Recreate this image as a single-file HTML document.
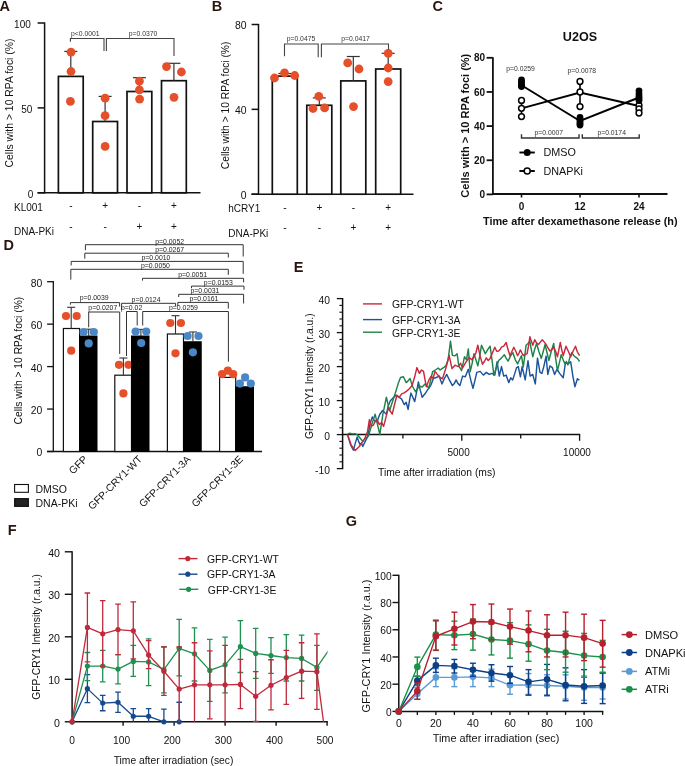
<!DOCTYPE html>
<html><head><meta charset="utf-8"><style>
html,body{margin:0;padding:0;background:#fff;}
svg{display:block;font-family:"Liberation Sans", sans-serif;will-change:transform;}
</style></head><body>
<svg width="685" height="766" viewBox="0 0 685 766">
<rect width="685" height="766" fill="#fff"/>
<text x="-0.40" y="11.00" font-size="14.5" text-anchor="start" font-weight="bold" fill="#2a1410">A</text>
<line x1="44.60" y1="22.40" x2="44.60" y2="193.40" stroke="#111" stroke-width="1.5"/>
<line x1="37.60" y1="23.00" x2="44.60" y2="23.00" stroke="#111" stroke-width="1.5"/>
<text x="30.80" y="27.90" font-size="10" text-anchor="end" fill="#111">100</text>
<line x1="37.60" y1="107.90" x2="44.60" y2="107.90" stroke="#111" stroke-width="1.5"/>
<text x="32.30" y="112.80" font-size="10" text-anchor="end" fill="#111">50</text>
<line x1="37.60" y1="192.80" x2="44.60" y2="192.80" stroke="#111" stroke-width="1.5"/>
<text x="33.30" y="197.70" font-size="10" text-anchor="end" fill="#111">0</text>
<line x1="37.60" y1="192.80" x2="200.50" y2="192.80" stroke="#111" stroke-width="1.5"/>
<text x="12.54" y="103.00" font-size="10.4" text-anchor="middle" fill="#111" transform="rotate(-90 12.54 103.00)">Cells with &gt; 10 RPA foci (%)</text>
<rect x="58.40" y="76.40" width="24.80" height="116.40" fill="#fff" stroke="#111" stroke-width="1.7"/>
<line x1="70.80" y1="76.40" x2="70.80" y2="51.40" stroke="#333" stroke-width="1.2"/>
<line x1="64.30" y1="51.40" x2="77.30" y2="51.40" stroke="#333" stroke-width="1.2"/>
<circle cx="71.00" cy="52.20" r="4.4" fill="#e5502a"/>
<circle cx="71.00" cy="71.50" r="4.4" fill="#e5502a"/>
<circle cx="70.40" cy="101.30" r="4.4" fill="#e5502a"/>
<rect x="92.70" y="121.50" width="24.80" height="71.30" fill="#fff" stroke="#111" stroke-width="1.7"/>
<line x1="105.10" y1="121.50" x2="105.10" y2="96.40" stroke="#333" stroke-width="1.2"/>
<line x1="98.60" y1="96.40" x2="111.60" y2="96.40" stroke="#333" stroke-width="1.2"/>
<circle cx="105.10" cy="98.20" r="4.4" fill="#e5502a"/>
<circle cx="105.10" cy="115.70" r="4.4" fill="#e5502a"/>
<circle cx="105.10" cy="146.40" r="4.4" fill="#e5502a"/>
<rect x="127.00" y="91.50" width="24.80" height="101.30" fill="#fff" stroke="#111" stroke-width="1.7"/>
<line x1="139.40" y1="91.50" x2="139.40" y2="77.70" stroke="#333" stroke-width="1.2"/>
<line x1="132.90" y1="77.70" x2="145.90" y2="77.70" stroke="#333" stroke-width="1.2"/>
<circle cx="139.40" cy="81.20" r="4.4" fill="#e5502a"/>
<circle cx="139.40" cy="89.90" r="4.4" fill="#e5502a"/>
<circle cx="139.60" cy="99.10" r="4.4" fill="#e5502a"/>
<rect x="161.50" y="80.70" width="24.80" height="112.10" fill="#fff" stroke="#111" stroke-width="1.7"/>
<line x1="173.90" y1="80.70" x2="173.90" y2="63.30" stroke="#333" stroke-width="1.2"/>
<line x1="167.40" y1="63.30" x2="180.40" y2="63.30" stroke="#333" stroke-width="1.2"/>
<circle cx="166.50" cy="66.60" r="4.4" fill="#e5502a"/>
<circle cx="181.40" cy="72.00" r="4.4" fill="#e5502a"/>
<circle cx="174.00" cy="97.30" r="4.4" fill="#e5502a"/>
<path d="M70.4,41.8 V38.5 H104 V51" stroke="#444" stroke-width="1.1" fill="none"/>
<path d="M106.4,51 V38.5 H174 V55.9" stroke="#444" stroke-width="1.1" fill="none"/>
<text x="71.00" y="36.20" font-size="6.8" text-anchor="start" fill="#333">p&lt;0.0001</text>
<text x="128.80" y="36.20" font-size="6.8" text-anchor="start" fill="#333">p=0.0370</text>
<text x="14.00" y="210.50" font-size="10" text-anchor="start" fill="#111">KL001</text>
<text x="14.00" y="234.70" font-size="10" text-anchor="start" fill="#111">DNA-PKi</text>
<text x="70.80" y="208.80" font-size="10" text-anchor="middle" fill="#111">-</text>
<text x="105.10" y="208.80" font-size="10" text-anchor="middle" fill="#111">+</text>
<text x="139.40" y="208.80" font-size="10" text-anchor="middle" fill="#111">-</text>
<text x="173.90" y="208.80" font-size="10" text-anchor="middle" fill="#111">+</text>
<text x="70.80" y="230.20" font-size="10" text-anchor="middle" fill="#111">-</text>
<text x="105.10" y="230.20" font-size="10" text-anchor="middle" fill="#111">-</text>
<text x="139.40" y="230.20" font-size="10" text-anchor="middle" fill="#111">+</text>
<text x="173.90" y="230.20" font-size="10" text-anchor="middle" fill="#111">+</text>
<text x="211.80" y="11.00" font-size="14.5" text-anchor="start" font-weight="bold" fill="#2a1410">B</text>
<line x1="258.50" y1="23.90" x2="258.50" y2="194.80" stroke="#111" stroke-width="1.5"/>
<line x1="251.60" y1="24.50" x2="258.50" y2="24.50" stroke="#111" stroke-width="1.5"/>
<text x="246.50" y="29.30" font-size="10.4" text-anchor="end" fill="#111">80</text>
<line x1="251.60" y1="109.35" x2="258.50" y2="109.35" stroke="#111" stroke-width="1.5"/>
<text x="246.50" y="114.15" font-size="10.4" text-anchor="end" fill="#111">40</text>
<line x1="251.60" y1="194.20" x2="258.50" y2="194.20" stroke="#111" stroke-width="1.5"/>
<text x="246.50" y="199.00" font-size="10.4" text-anchor="end" fill="#111">0</text>
<line x1="251.40" y1="194.20" x2="413.50" y2="194.20" stroke="#111" stroke-width="1.5"/>
<text x="228.91" y="105.40" font-size="10.3" text-anchor="middle" fill="#111" transform="rotate(-90 228.91 105.40)">Cells with &gt; 10 RPA foci (%)</text>
<rect x="272.30" y="76.10" width="25.00" height="118.10" fill="#fff" stroke="#111" stroke-width="1.7"/>
<line x1="284.80" y1="76.10" x2="284.80" y2="73.50" stroke="#333" stroke-width="1.2"/>
<line x1="278.30" y1="73.50" x2="291.30" y2="73.50" stroke="#333" stroke-width="1.2"/>
<circle cx="274.50" cy="78.00" r="4.4" fill="#e5502a"/>
<circle cx="284.50" cy="72.90" r="4.4" fill="#e5502a"/>
<circle cx="294.70" cy="75.50" r="4.4" fill="#e5502a"/>
<rect x="306.80" y="105.30" width="25.00" height="88.90" fill="#fff" stroke="#111" stroke-width="1.7"/>
<line x1="319.30" y1="105.30" x2="319.30" y2="97.90" stroke="#333" stroke-width="1.2"/>
<line x1="312.80" y1="97.90" x2="325.80" y2="97.90" stroke="#333" stroke-width="1.2"/>
<circle cx="318.80" cy="96.30" r="4.4" fill="#e5502a"/>
<circle cx="313.00" cy="108.50" r="4.4" fill="#e5502a"/>
<circle cx="324.60" cy="107.90" r="4.4" fill="#e5502a"/>
<rect x="340.80" y="80.90" width="25.00" height="113.30" fill="#fff" stroke="#111" stroke-width="1.7"/>
<line x1="353.30" y1="80.90" x2="353.30" y2="56.50" stroke="#333" stroke-width="1.2"/>
<line x1="346.80" y1="56.50" x2="359.80" y2="56.50" stroke="#333" stroke-width="1.2"/>
<circle cx="347.70" cy="62.90" r="4.4" fill="#e5502a"/>
<circle cx="359.00" cy="69.00" r="4.4" fill="#e5502a"/>
<circle cx="353.50" cy="106.60" r="4.4" fill="#e5502a"/>
<rect x="375.70" y="69.00" width="25.00" height="125.20" fill="#fff" stroke="#111" stroke-width="1.7"/>
<line x1="388.20" y1="69.00" x2="388.20" y2="53.30" stroke="#333" stroke-width="1.2"/>
<line x1="381.70" y1="53.30" x2="394.70" y2="53.30" stroke="#333" stroke-width="1.2"/>
<circle cx="388.20" cy="53.30" r="4.4" fill="#e5502a"/>
<circle cx="388.20" cy="68.00" r="4.4" fill="#e5502a"/>
<circle cx="388.20" cy="81.60" r="4.4" fill="#e5502a"/>
<path d="M284.5,56.2 V44 H318.2 V57.2" stroke="#444" stroke-width="1.1" fill="none"/>
<path d="M321.4,57.2 V44 H388.5 V49.8" stroke="#444" stroke-width="1.1" fill="none"/>
<text x="286.70" y="41.20" font-size="6.8" text-anchor="start" fill="#333">p=0.0475</text>
<text x="341.30" y="41.20" font-size="6.8" text-anchor="start" fill="#333">p=0.0417</text>
<text x="228.30" y="212.20" font-size="10" text-anchor="start" fill="#111">hCRY1</text>
<text x="228.30" y="236.50" font-size="10" text-anchor="start" fill="#111">DNA-PKi</text>
<text x="284.80" y="210.50" font-size="10" text-anchor="middle" fill="#111">-</text>
<text x="319.30" y="210.50" font-size="10" text-anchor="middle" fill="#111">+</text>
<text x="353.30" y="210.50" font-size="10" text-anchor="middle" fill="#111">-</text>
<text x="388.20" y="210.50" font-size="10" text-anchor="middle" fill="#111">+</text>
<text x="284.80" y="231.00" font-size="10" text-anchor="middle" fill="#111">-</text>
<text x="319.30" y="231.00" font-size="10" text-anchor="middle" fill="#111">-</text>
<text x="353.30" y="231.00" font-size="10" text-anchor="middle" fill="#111">+</text>
<text x="388.20" y="231.00" font-size="10" text-anchor="middle" fill="#111">+</text>
<text x="432.40" y="11.00" font-size="14.5" text-anchor="start" font-weight="bold" fill="#2a1410">C</text>
<text x="580.00" y="40.70" font-size="12.6" text-anchor="middle" font-weight="bold" fill="#111">U2OS</text>
<line x1="492.90" y1="57.20" x2="492.90" y2="194.40" stroke="#111" stroke-width="1.8"/>
<line x1="486.60" y1="57.80" x2="492.90" y2="57.80" stroke="#111" stroke-width="1.8"/>
<text x="485.00" y="61.40" font-size="10" text-anchor="end" font-weight="bold" fill="#111">80</text>
<line x1="486.60" y1="91.95" x2="492.90" y2="91.95" stroke="#111" stroke-width="1.8"/>
<text x="485.00" y="95.55" font-size="10" text-anchor="end" font-weight="bold" fill="#111">60</text>
<line x1="486.60" y1="126.10" x2="492.90" y2="126.10" stroke="#111" stroke-width="1.8"/>
<text x="485.00" y="129.70" font-size="10" text-anchor="end" font-weight="bold" fill="#111">40</text>
<line x1="486.60" y1="160.25" x2="492.90" y2="160.25" stroke="#111" stroke-width="1.8"/>
<text x="485.00" y="163.85" font-size="10" text-anchor="end" font-weight="bold" fill="#111">20</text>
<line x1="486.60" y1="194.40" x2="492.90" y2="194.40" stroke="#111" stroke-width="1.8"/>
<text x="485.00" y="198.00" font-size="10" text-anchor="end" font-weight="bold" fill="#111">0</text>
<line x1="492.00" y1="194.00" x2="667.50" y2="194.00" stroke="#111" stroke-width="1.8"/>
<line x1="521.50" y1="194.00" x2="521.50" y2="197.50" stroke="#111" stroke-width="1.6"/>
<text x="521.50" y="210.40" font-size="10" text-anchor="middle" font-weight="bold" fill="#111">0</text>
<line x1="580.00" y1="194.00" x2="580.00" y2="197.50" stroke="#111" stroke-width="1.6"/>
<text x="580.00" y="210.40" font-size="10" text-anchor="middle" font-weight="bold" fill="#111">12</text>
<line x1="639.00" y1="194.00" x2="639.00" y2="197.50" stroke="#111" stroke-width="1.6"/>
<text x="639.00" y="210.40" font-size="10" text-anchor="middle" font-weight="bold" fill="#111">24</text>
<text x="580.30" y="224.80" font-size="10.9" text-anchor="middle" font-weight="bold" fill="#111">Time after dexamethasone release (h)</text>
<text x="469.36" y="125.70" font-size="11.0" text-anchor="middle" font-weight="bold" fill="#111" transform="rotate(-90 469.36 125.70)">Cells with &gt; 10 RPA foci (%)</text>
<path d="M521.5,108.3 L580.0,92.5 L639.0,106.0" stroke="#000" stroke-width="1.9" fill="none"/>
<path d="M521.5,85.2 L580.0,121.0 L639.0,97.5" stroke="#000" stroke-width="1.9" fill="none"/>
<line x1="521.50" y1="100.40" x2="521.50" y2="116.60" stroke="#000" stroke-width="1.6"/>
<line x1="521.50" y1="80.00" x2="521.50" y2="86.60" stroke="#000" stroke-width="1.6"/>
<circle cx="521.50" cy="100.40" r="2.9" fill="#fff" stroke="#000" stroke-width="1.5"/>
<circle cx="521.50" cy="108.30" r="2.9" fill="#fff" stroke="#000" stroke-width="1.5"/>
<circle cx="521.50" cy="116.60" r="2.9" fill="#fff" stroke="#000" stroke-width="1.5"/>
<circle cx="521.50" cy="80.00" r="3.4" fill="#000"/>
<circle cx="521.50" cy="82.00" r="3.4" fill="#000"/>
<circle cx="521.50" cy="84.00" r="3.4" fill="#000"/>
<circle cx="521.50" cy="85.50" r="3.4" fill="#000"/>
<circle cx="521.50" cy="86.60" r="3.4" fill="#000"/>
<line x1="580.00" y1="81.50" x2="580.00" y2="106.60" stroke="#000" stroke-width="1.6"/>
<line x1="580.00" y1="117.50" x2="580.00" y2="125.00" stroke="#000" stroke-width="1.6"/>
<circle cx="580.00" cy="81.50" r="2.9" fill="#fff" stroke="#000" stroke-width="1.5"/>
<circle cx="580.00" cy="92.00" r="2.9" fill="#fff" stroke="#000" stroke-width="1.5"/>
<circle cx="580.00" cy="106.60" r="2.9" fill="#fff" stroke="#000" stroke-width="1.5"/>
<circle cx="580.00" cy="117.50" r="3.4" fill="#000"/>
<circle cx="580.00" cy="119.50" r="3.4" fill="#000"/>
<circle cx="580.00" cy="121.50" r="3.4" fill="#000"/>
<circle cx="580.00" cy="123.50" r="3.4" fill="#000"/>
<circle cx="580.00" cy="125.00" r="3.4" fill="#000"/>
<line x1="639.00" y1="105.30" x2="639.00" y2="113.00" stroke="#000" stroke-width="1.6"/>
<line x1="639.00" y1="90.80" x2="639.00" y2="100.50" stroke="#000" stroke-width="1.6"/>
<circle cx="639.00" cy="105.30" r="2.9" fill="#fff" stroke="#000" stroke-width="1.5"/>
<circle cx="639.00" cy="109.00" r="2.9" fill="#fff" stroke="#000" stroke-width="1.5"/>
<circle cx="639.00" cy="113.00" r="2.9" fill="#fff" stroke="#000" stroke-width="1.5"/>
<circle cx="639.00" cy="90.80" r="3.4" fill="#000"/>
<circle cx="639.00" cy="94.00" r="3.4" fill="#000"/>
<circle cx="639.00" cy="96.50" r="3.4" fill="#000"/>
<circle cx="639.00" cy="98.50" r="3.4" fill="#000"/>
<circle cx="639.00" cy="100.50" r="3.4" fill="#000"/>
<text x="506.30" y="70.50" font-size="6.8" text-anchor="start" fill="#333">p=0.0259</text>
<text x="567.60" y="72.60" font-size="6.8" text-anchor="start" fill="#333">p=0.0078</text>
<path d="M521.5,134.3 V138.0 H579 V134.3" stroke="#333" stroke-width="1.4" fill="none"/>
<path d="M582.3,134.3 V138.0 H639.2 V134.3" stroke="#333" stroke-width="1.4" fill="none"/>
<text x="534.60" y="134.80" font-size="6.8" text-anchor="start" fill="#333">p=0.0007</text>
<text x="597.40" y="134.80" font-size="6.8" text-anchor="start" fill="#333">p=0.0174</text>
<line x1="519.40" y1="152.50" x2="534.80" y2="152.50" stroke="#000" stroke-width="1.9"/>
<circle cx="527.20" cy="152.50" r="3.5" fill="#000"/>
<text x="543.40" y="156.40" font-size="10.8" text-anchor="start" fill="#111">DMSO</text>
<line x1="519.40" y1="171.00" x2="534.80" y2="171.00" stroke="#000" stroke-width="1.9"/>
<circle cx="527.20" cy="171.00" r="3.0" fill="#fff" stroke="#000" stroke-width="1.5"/>
<text x="543.40" y="174.90" font-size="10.8" text-anchor="start" fill="#111">DNAPKi</text>
<text x="3.40" y="249.80" font-size="14.5" text-anchor="start" font-weight="bold" fill="#2a1410">D</text>
<line x1="53.30" y1="281.10" x2="53.30" y2="452.00" stroke="#111" stroke-width="1.3"/>
<line x1="47.10" y1="281.70" x2="53.30" y2="281.70" stroke="#111" stroke-width="1.3"/>
<text x="42.40" y="286.60" font-size="10.4" text-anchor="end" fill="#111">80</text>
<line x1="47.10" y1="324.15" x2="53.30" y2="324.15" stroke="#111" stroke-width="1.3"/>
<text x="42.40" y="329.05" font-size="10.4" text-anchor="end" fill="#111">60</text>
<line x1="47.10" y1="366.60" x2="53.30" y2="366.60" stroke="#111" stroke-width="1.3"/>
<text x="42.40" y="371.50" font-size="10.4" text-anchor="end" fill="#111">40</text>
<line x1="47.10" y1="409.05" x2="53.30" y2="409.05" stroke="#111" stroke-width="1.3"/>
<text x="42.40" y="413.95" font-size="10.4" text-anchor="end" fill="#111">20</text>
<line x1="47.10" y1="451.50" x2="53.30" y2="451.50" stroke="#111" stroke-width="1.3"/>
<text x="42.40" y="456.40" font-size="10.4" text-anchor="end" fill="#111">0</text>
<line x1="47.10" y1="451.50" x2="262.00" y2="451.50" stroke="#111" stroke-width="1.3"/>
<text x="21.71" y="360.60" font-size="10.3" text-anchor="middle" fill="#111" transform="rotate(-90 21.71 360.60)">Cells with &gt; 10 RPA foci (%)</text>
<rect x="63.40" y="328.50" width="16.20" height="123.00" fill="#fff" stroke="#111" stroke-width="1.2"/>
<line x1="71.20" y1="328.50" x2="71.20" y2="307.30" stroke="#333" stroke-width="1.1"/>
<line x1="67.20" y1="307.30" x2="75.20" y2="307.30" stroke="#333" stroke-width="1.1"/>
<circle cx="66.00" cy="316.00" r="4.1" fill="#e5502a"/>
<circle cx="76.70" cy="316.00" r="4.1" fill="#e5502a"/>
<circle cx="71.20" cy="350.70" r="4.1" fill="#e5502a"/>
<rect x="79.60" y="336.00" width="17.40" height="115.50" fill="#000" stroke="#000" stroke-width="1.0"/>
<line x1="88.70" y1="336.00" x2="88.70" y2="329.20" stroke="#333" stroke-width="1.1"/>
<line x1="84.70" y1="329.20" x2="92.70" y2="329.20" stroke="#333" stroke-width="1.1"/>
<circle cx="83.60" cy="332.00" r="4.1" fill="#4a87c6"/>
<circle cx="93.80" cy="332.00" r="4.1" fill="#4a87c6"/>
<circle cx="88.70" cy="343.40" r="4.1" fill="#4a87c6"/>
<rect x="114.80" y="375.20" width="16.70" height="76.30" fill="#fff" stroke="#111" stroke-width="1.2"/>
<line x1="123.40" y1="375.20" x2="123.40" y2="358.00" stroke="#333" stroke-width="1.1"/>
<line x1="119.40" y1="358.00" x2="127.40" y2="358.00" stroke="#333" stroke-width="1.1"/>
<circle cx="119.00" cy="364.80" r="4.1" fill="#e5502a"/>
<circle cx="128.50" cy="364.80" r="4.1" fill="#e5502a"/>
<circle cx="123.40" cy="393.40" r="4.1" fill="#e5502a"/>
<rect x="131.50" y="336.00" width="17.50" height="115.50" fill="#000" stroke="#000" stroke-width="1.0"/>
<line x1="140.90" y1="336.00" x2="140.90" y2="329.40" stroke="#333" stroke-width="1.1"/>
<line x1="136.90" y1="329.40" x2="144.90" y2="329.40" stroke="#333" stroke-width="1.1"/>
<circle cx="135.60" cy="331.60" r="4.1" fill="#4a87c6"/>
<circle cx="146.20" cy="331.60" r="4.1" fill="#4a87c6"/>
<circle cx="141.20" cy="343.00" r="4.1" fill="#4a87c6"/>
<rect x="167.40" y="334.00" width="16.10" height="117.50" fill="#fff" stroke="#111" stroke-width="1.2"/>
<line x1="175.50" y1="334.00" x2="175.50" y2="315.70" stroke="#333" stroke-width="1.1"/>
<line x1="171.50" y1="315.70" x2="179.50" y2="315.70" stroke="#333" stroke-width="1.1"/>
<circle cx="170.30" cy="323.00" r="4.1" fill="#e5502a"/>
<circle cx="180.90" cy="323.00" r="4.1" fill="#e5502a"/>
<circle cx="175.50" cy="353.30" r="4.1" fill="#e5502a"/>
<rect x="183.50" y="341.80" width="17.70" height="109.70" fill="#000" stroke="#000" stroke-width="1.0"/>
<line x1="192.90" y1="341.80" x2="192.90" y2="332.00" stroke="#333" stroke-width="1.1"/>
<line x1="188.90" y1="332.00" x2="196.90" y2="332.00" stroke="#333" stroke-width="1.1"/>
<circle cx="187.60" cy="336.00" r="4.1" fill="#4a87c6"/>
<circle cx="198.50" cy="336.00" r="4.1" fill="#4a87c6"/>
<circle cx="192.90" cy="352.30" r="4.1" fill="#4a87c6"/>
<rect x="219.60" y="377.40" width="16.10" height="74.10" fill="#fff" stroke="#111" stroke-width="1.2"/>
<circle cx="222.10" cy="374.20" r="4.1" fill="#e5502a"/>
<circle cx="227.80" cy="370.70" r="4.1" fill="#e5502a"/>
<circle cx="233.20" cy="374.20" r="4.1" fill="#e5502a"/>
<rect x="235.70" y="386.80" width="17.80" height="64.70" fill="#000" stroke="#000" stroke-width="1.0"/>
<circle cx="239.90" cy="383.60" r="4.1" fill="#4a87c6"/>
<circle cx="245.10" cy="377.40" r="4.1" fill="#4a87c6"/>
<circle cx="250.80" cy="383.60" r="4.1" fill="#4a87c6"/>
<path d="M85.4,250.2 V244.7 H243.2 V256.5" stroke="#333" stroke-width="1.0" fill="none"/>
<path d="M84.8,258.7 V253.2 H228.3 V257.5" stroke="#333" stroke-width="1.0" fill="none"/>
<path d="M71.2,265.4 V261.4 H243.2 V273.8" stroke="#333" stroke-width="1.0" fill="none"/>
<path d="M70.8,279.6 V269.3 H228.3 V274.9" stroke="#333" stroke-width="1.0" fill="none"/>
<path d="M142.5,280.6 V278.3 H243.6 V282.4" stroke="#333" stroke-width="1.0" fill="none"/>
<path d="M191.5,288.2 V286.1 H244 V289.8" stroke="#333" stroke-width="1.0" fill="none"/>
<path d="M178.7,297 V294.3 H243.6 V303.5" stroke="#333" stroke-width="1.0" fill="none"/>
<path d="M177.8,306 V302.4 H228.3 V308.6" stroke="#333" stroke-width="1.0" fill="none"/>
<path d="M70.4,304.7 V302.6 H119.6 V306.6" stroke="#333" stroke-width="1.0" fill="none"/>
<path d="M121.6,310 V303.3 H175.6 V306" stroke="#333" stroke-width="1.0" fill="none"/>
<path d="M88.7,327.3 V312 H119.7 V354" stroke="#333" stroke-width="1.0" fill="none"/>
<path d="M126.5,356 V311.5 H137.2 V325.5" stroke="#333" stroke-width="1.0" fill="none"/>
<path d="M142.7,325.5 V311.5 H228.4 V361.7" stroke="#333" stroke-width="1.0" fill="none"/>
<text x="155.20" y="243.90" font-size="6.9" text-anchor="start" fill="#222">p=0.0052</text>
<text x="155.20" y="252.40" font-size="6.9" text-anchor="start" fill="#222">p=0.0267</text>
<text x="141.50" y="260.40" font-size="6.9" text-anchor="start" fill="#222">p=0.0010</text>
<text x="141.00" y="268.40" font-size="6.9" text-anchor="start" fill="#222">p=0.0050</text>
<text x="178.20" y="277.20" font-size="6.9" text-anchor="start" fill="#222">p=0.0051</text>
<text x="203.80" y="285.20" font-size="6.9" text-anchor="start" fill="#222">p=0.0153</text>
<text x="190.50" y="293.20" font-size="6.9" text-anchor="start" fill="#222">p=0.0031</text>
<text x="189.50" y="301.40" font-size="6.9" text-anchor="start" fill="#222">p=0.0161</text>
<text x="79.70" y="300.30" font-size="6.9" text-anchor="start" fill="#222">p=0.0039</text>
<text x="131.60" y="302.20" font-size="6.9" text-anchor="start" fill="#222">p=0.0124</text>
<text x="88.30" y="310.30" font-size="6.9" text-anchor="start" fill="#222">p=0.0207</text>
<text x="121.00" y="309.80" font-size="6.9" text-anchor="start" fill="#222">p=0.02</text>
<text x="169.00" y="309.80" font-size="6.9" text-anchor="start" fill="#222">p=0.0259</text>
<text x="88.10" y="459.80" font-size="10.3" text-anchor="end" fill="#111" transform="rotate(-45 88.10 459.80)">GFP</text>
<text x="142.80" y="459.80" font-size="10.3" text-anchor="end" fill="#111" transform="rotate(-45 142.80 459.80)">GFP-CRY1-WT</text>
<text x="191.30" y="459.80" font-size="10.3" text-anchor="end" fill="#111" transform="rotate(-45 191.30 459.80)">GFP-CRY1-3A</text>
<text x="243.70" y="459.80" font-size="10.3" text-anchor="end" fill="#111" transform="rotate(-45 243.70 459.80)">GFP-CRY1-3E</text>
<rect x="14.60" y="484.50" width="13.80" height="7.80" fill="#fff" stroke="#111" stroke-width="1.1"/>
<text x="35.50" y="492.50" font-size="10.5" text-anchor="start" fill="#111">DMSO</text>
<rect x="14.60" y="498.60" width="13.80" height="7.80" fill="#222" stroke="#111" stroke-width="1.1"/>
<text x="35.50" y="507.00" font-size="10.5" text-anchor="start" fill="#111">DNA-PKi</text>
<text x="293.70" y="272.30" font-size="14.5" text-anchor="start" font-weight="bold" fill="#2a1410">E</text>
<line x1="342.60" y1="298.00" x2="342.60" y2="469.20" stroke="#111" stroke-width="1.5"/>
<line x1="336.80" y1="468.60" x2="342.60" y2="468.60" stroke="#111" stroke-width="1.3"/>
<text x="330.00" y="473.60" font-size="10.3" text-anchor="end" fill="#111">-10</text>
<line x1="339.40" y1="461.80" x2="342.60" y2="461.80" stroke="#111" stroke-width="1.1"/>
<line x1="339.40" y1="455.00" x2="342.60" y2="455.00" stroke="#111" stroke-width="1.1"/>
<line x1="339.40" y1="448.20" x2="342.60" y2="448.20" stroke="#111" stroke-width="1.1"/>
<line x1="339.40" y1="441.40" x2="342.60" y2="441.40" stroke="#111" stroke-width="1.1"/>
<line x1="336.80" y1="434.60" x2="342.60" y2="434.60" stroke="#111" stroke-width="1.3"/>
<text x="330.00" y="439.60" font-size="10.3" text-anchor="end" fill="#111">0</text>
<line x1="339.40" y1="427.80" x2="342.60" y2="427.80" stroke="#111" stroke-width="1.1"/>
<line x1="339.40" y1="421.00" x2="342.60" y2="421.00" stroke="#111" stroke-width="1.1"/>
<line x1="339.40" y1="414.20" x2="342.60" y2="414.20" stroke="#111" stroke-width="1.1"/>
<line x1="339.40" y1="407.40" x2="342.60" y2="407.40" stroke="#111" stroke-width="1.1"/>
<line x1="336.80" y1="400.60" x2="342.60" y2="400.60" stroke="#111" stroke-width="1.3"/>
<text x="330.00" y="405.60" font-size="10.3" text-anchor="end" fill="#111">10</text>
<line x1="339.40" y1="393.80" x2="342.60" y2="393.80" stroke="#111" stroke-width="1.1"/>
<line x1="339.40" y1="387.00" x2="342.60" y2="387.00" stroke="#111" stroke-width="1.1"/>
<line x1="339.40" y1="380.20" x2="342.60" y2="380.20" stroke="#111" stroke-width="1.1"/>
<line x1="339.40" y1="373.40" x2="342.60" y2="373.40" stroke="#111" stroke-width="1.1"/>
<line x1="336.80" y1="366.60" x2="342.60" y2="366.60" stroke="#111" stroke-width="1.3"/>
<text x="330.00" y="371.60" font-size="10.3" text-anchor="end" fill="#111">20</text>
<line x1="339.40" y1="359.80" x2="342.60" y2="359.80" stroke="#111" stroke-width="1.1"/>
<line x1="339.40" y1="353.00" x2="342.60" y2="353.00" stroke="#111" stroke-width="1.1"/>
<line x1="339.40" y1="346.20" x2="342.60" y2="346.20" stroke="#111" stroke-width="1.1"/>
<line x1="339.40" y1="339.40" x2="342.60" y2="339.40" stroke="#111" stroke-width="1.1"/>
<line x1="336.80" y1="332.60" x2="342.60" y2="332.60" stroke="#111" stroke-width="1.3"/>
<text x="330.00" y="337.60" font-size="10.3" text-anchor="end" fill="#111">30</text>
<line x1="339.40" y1="325.80" x2="342.60" y2="325.80" stroke="#111" stroke-width="1.1"/>
<line x1="339.40" y1="319.00" x2="342.60" y2="319.00" stroke="#111" stroke-width="1.1"/>
<line x1="339.40" y1="312.20" x2="342.60" y2="312.20" stroke="#111" stroke-width="1.1"/>
<line x1="339.40" y1="305.40" x2="342.60" y2="305.40" stroke="#111" stroke-width="1.1"/>
<line x1="336.80" y1="298.60" x2="342.60" y2="298.60" stroke="#111" stroke-width="1.3"/>
<text x="330.00" y="303.60" font-size="10.3" text-anchor="end" fill="#111">40</text>
<line x1="342.60" y1="434.60" x2="580.20" y2="434.60" stroke="#111" stroke-width="1.5"/>
<line x1="402.90" y1="434.60" x2="402.90" y2="438.40" stroke="#111" stroke-width="1.3"/>
<line x1="461.80" y1="434.60" x2="461.80" y2="440.80" stroke="#111" stroke-width="1.3"/>
<line x1="520.70" y1="434.60" x2="520.70" y2="438.40" stroke="#111" stroke-width="1.3"/>
<line x1="579.60" y1="434.60" x2="579.60" y2="440.80" stroke="#111" stroke-width="1.3"/>
<text x="458.60" y="456.30" font-size="10" text-anchor="middle" fill="#111">5000</text>
<text x="577.00" y="456.30" font-size="10" text-anchor="middle" fill="#111">10000</text>
<text x="378.00" y="476.20" font-size="10.3" text-anchor="start" fill="#111">Time after irradiation (ms)</text>
<text x="312.71" y="376.20" font-size="10.3" text-anchor="middle" fill="#111" transform="rotate(-90 312.71 376.20)">GFP-CRY1 Intensity (r.a.u.)</text>
<path d="M347.5,434.6 L350.6,444.8 L353.4,450.2 L355.3,443.1 L357.2,437.0 L358.6,441.4 L360.0,444.5 L361.4,443.1 L362.8,446.5 L365.2,441.4 L367.6,437.0 L369.9,424.4 L372.3,416.9 L374.6,421.0 L377.0,421.7 L379.8,414.2 L382.6,410.5 L384.5,412.5 L386.4,414.2 L388.3,405.7 L390.2,400.9 L393.0,397.9 L395.8,395.2 L398.7,397.2 L401.5,398.9 L404.3,404.7 L406.2,402.3 L408.1,409.4 L409.5,400.6 L410.9,393.1 L412.8,397.2 L414.7,401.6 L416.6,392.1 L418.4,381.9 L420.3,390.4 L422.2,397.2 L425.0,393.8 L427.9,389.4 L429.3,387.7 L430.7,385.6 L432.1,381.9 L433.5,378.2 L436.4,377.5 L439.2,376.1 L440.6,380.2 L442.0,383.9 L444.4,378.5 L446.7,374.4 L449.5,380.2 L452.4,385.6 L454.3,383.6 L456.1,379.9 L458.0,383.6 L459.9,385.6 L462.6,376.1 L465.3,376.8 L468.3,369.3 L470.8,380.2 L473.0,388.4 L475.0,380.2 L476.8,372.4 L480.2,371.4 L483.4,375.1 L486.3,372.4 L489.1,374.4 L492.0,373.4 L494.8,375.1 L497.1,361.8 L499.3,376.1 L501.5,366.6 L503.7,376.1 L506.1,375.1 L508.7,382.6 L510.8,377.8 L512.7,379.9 L514.8,373.4 L516.6,367.6 L518.3,366.6 L520.4,376.8 L522.1,366.6 L525.2,379.9 L528.0,360.8 L530.1,376.1 L532.7,374.4 L535.3,383.9 L537.5,358.1 L540.0,372.4 L541.9,373.4 L543.8,366.6 L546.1,356.1 L547.8,374.4 L549.9,365.9 L552.3,367.6 L554.6,374.4 L557.0,369.3 L559.6,373.4 L563.2,377.8 L565.5,362.5 L567.8,363.9 L570.7,361.8 L573.0,376.8 L574.9,386.7 L577.4,378.8 L579.4,380.2" stroke="#1d539c" stroke-width="1.45" fill="none" stroke-linejoin="round"/>
<path d="M347.5,433.9 L349.9,433.2 L352.2,433.9 L354.6,433.6 L357.2,434.6 L360.0,438.0 L362.8,441.4 L365.7,438.0 L368.5,436.0 L371.8,424.4 L375.1,414.2 L377.5,424.4 L379.8,434.6 L382.9,414.2 L386.4,397.2 L389.5,410.8 L392.3,402.3 L395.1,393.8 L398.2,383.6 L400.5,377.5 L403.4,376.8 L406.2,382.6 L408.1,380.9 L410.0,378.5 L412.8,387.0 L415.6,391.8 L417.5,388.7 L419.4,386.0 L422.2,387.0 L425.0,383.9 L428.8,388.0 L430.7,380.2 L432.6,371.7 L435.4,370.0 L438.2,368.0 L440.1,370.0 L442.0,368.6 L443.9,367.3 L445.8,365.9 L448.1,359.8 L450.5,341.1 L452.4,355.4 L455.0,355.7 L457.1,353.7 L458.8,365.9 L461.6,370.7 L464.5,356.7 L466.5,359.8 L468.3,348.9 L470.2,371.7 L472.2,363.2 L474.0,353.7 L475.9,359.8 L477.8,365.9 L479.7,356.4 L481.5,345.2 L483.5,349.6 L485.3,353.7 L487.7,349.6 L490.1,346.2 L492.0,359.8 L493.9,375.4 L496.2,368.3 L498.6,360.5 L501.4,358.1 L504.3,354.7 L506.1,358.1 L508.1,361.2 L510.3,356.4 L512.9,352.7 L515.3,359.8 L517.6,363.9 L519.5,359.8 L521.4,355.7 L523.3,366.9 L524.7,356.4 L526.1,345.2 L528.0,343.5 L529.9,341.4 L531.3,349.6 L532.8,356.7 L534.6,349.6 L536.6,343.5 L538.8,351.3 L541.3,358.4 L543.3,351.3 L545.1,344.5 L547.1,353.0 L548.9,360.5 L551.3,351.3 L553.7,343.5 L555.6,358.1 L557.5,370.7 L559.3,363.2 L561.2,354.7 L563.1,359.8 L565.0,363.9 L566.4,361.5 L567.9,364.9 L569.7,358.1 L571.7,352.7 L574.4,356.4 L577.4,358.4 L579.6,361.5" stroke="#1e8348" stroke-width="1.45" fill="none" stroke-linejoin="round"/>
<path d="M347.5,434.6 L351.1,444.8 L355.2,450.6 L359.3,446.5 L364.7,438.7 L367.6,431.2 L369.4,419.6 L371.3,426.1 L373.2,425.4 L375.1,421.7 L377.0,419.6 L379.3,424.4 L381.7,422.7 L383.6,426.4 L385.9,417.6 L388.4,407.4 L390.2,410.8 L392.2,414.2 L394.7,404.0 L396.9,395.2 L399.4,397.2 L401.7,393.8 L404.1,392.8 L406.4,391.4 L409.3,388.7 L412.1,385.6 L414.7,376.8 L416.9,367.6 L419.4,373.4 L421.5,370.0 L423.5,371.4 L426.3,386.7 L428.8,380.2 L431.2,376.1 L433.1,378.5 L434.9,371.4 L437.1,374.1 L439.4,376.8 L442.5,378.8 L445.3,370.0 L447.2,363.2 L449.1,355.4 L452.0,368.6 L455.0,365.2 L458.3,366.6 L460.6,363.2 L462.6,368.0 L465.3,363.2 L469.2,357.4 L471.7,359.8 L474.0,356.7 L475.9,353.0 L477.8,345.2 L480.2,356.4 L482.5,364.2 L484.4,361.5 L486.3,357.8 L488.2,360.5 L490.1,358.4 L492.4,353.0 L494.8,347.2 L496.7,351.3 L498.6,351.0 L500.0,349.6 L501.5,347.2 L503.7,346.2 L506.2,342.5 L508.0,349.6 L510.0,355.7 L512.0,351.3 L513.8,347.2 L515.8,351.3 L517.6,355.7 L519.1,353.0 L520.4,349.9 L521.9,353.0 L523.3,355.7 L525.2,354.7 L527.1,353.7 L528.5,346.2 L529.9,336.7 L531.3,341.1 L532.8,345.2 L533.7,342.8 L534.7,339.7 L536.5,342.8 L538.5,344.5 L540.3,342.1 L542.3,339.7 L544.3,342.1 L546.1,344.5 L548.0,347.9 L549.9,351.0 L551.8,349.6 L553.7,347.2 L555.6,351.3 L557.5,356.7 L558.9,349.6 L560.3,342.5 L561.7,349.6 L563.2,355.7 L564.5,351.3 L566.0,346.2 L568.3,351.3 L570.7,356.7 L573.0,351.3 L575.5,346.2 L577.4,352.0 L579.6,355.7" stroke="#c8283c" stroke-width="1.45" fill="none" stroke-linejoin="round"/>
<line x1="363.00" y1="303.90" x2="382.00" y2="303.90" stroke="#c8283c" stroke-width="1.4"/>
<text x="392.00" y="308.30" font-size="10.4" text-anchor="start" fill="#111">GFP-CRY1-WT</text>
<line x1="363.00" y1="319.60" x2="382.00" y2="319.60" stroke="#1d539c" stroke-width="1.4"/>
<text x="392.00" y="324.00" font-size="10.4" text-anchor="start" fill="#111">GFP-CRY1-3A</text>
<line x1="363.00" y1="332.20" x2="382.00" y2="332.20" stroke="#1e8348" stroke-width="1.4"/>
<text x="392.00" y="336.60" font-size="10.4" text-anchor="start" fill="#111">GFP-CRY1-3E</text>
<text x="7.70" y="534.50" font-size="14.5" text-anchor="start" font-weight="bold" fill="#2a1410">F</text>
<line x1="72.10" y1="551.20" x2="72.10" y2="722.40" stroke="#111" stroke-width="1.5"/>
<line x1="64.80" y1="551.80" x2="72.10" y2="551.80" stroke="#111" stroke-width="1.4"/>
<text x="60.00" y="556.80" font-size="10.6" text-anchor="end" fill="#111">40</text>
<line x1="64.80" y1="594.30" x2="72.10" y2="594.30" stroke="#111" stroke-width="1.4"/>
<text x="60.00" y="599.30" font-size="10.6" text-anchor="end" fill="#111">30</text>
<line x1="64.80" y1="636.80" x2="72.10" y2="636.80" stroke="#111" stroke-width="1.4"/>
<text x="60.00" y="641.80" font-size="10.6" text-anchor="end" fill="#111">20</text>
<line x1="64.80" y1="679.30" x2="72.10" y2="679.30" stroke="#111" stroke-width="1.4"/>
<text x="60.00" y="684.30" font-size="10.6" text-anchor="end" fill="#111">10</text>
<line x1="64.80" y1="721.80" x2="72.10" y2="721.80" stroke="#111" stroke-width="1.4"/>
<text x="60.00" y="726.80" font-size="10.6" text-anchor="end" fill="#111">0</text>
<line x1="72.10" y1="721.80" x2="327.80" y2="721.80" stroke="#111" stroke-width="1.5"/>
<line x1="123.10" y1="721.80" x2="123.10" y2="725.80" stroke="#111" stroke-width="1.4"/>
<line x1="174.10" y1="721.80" x2="174.10" y2="725.80" stroke="#111" stroke-width="1.4"/>
<line x1="225.10" y1="721.80" x2="225.10" y2="725.80" stroke="#111" stroke-width="1.4"/>
<line x1="276.10" y1="721.80" x2="276.10" y2="725.80" stroke="#111" stroke-width="1.4"/>
<line x1="327.10" y1="721.80" x2="327.10" y2="725.80" stroke="#111" stroke-width="1.4"/>
<text x="72.00" y="743.80" font-size="10.2" text-anchor="middle" fill="#111">0</text>
<text x="121.60" y="743.80" font-size="10.2" text-anchor="middle" fill="#111">100</text>
<text x="172.20" y="743.80" font-size="10.2" text-anchor="middle" fill="#111">200</text>
<text x="223.30" y="743.80" font-size="10.2" text-anchor="middle" fill="#111">300</text>
<text x="274.40" y="743.80" font-size="10.2" text-anchor="middle" fill="#111">400</text>
<text x="325.00" y="743.80" font-size="10.2" text-anchor="middle" fill="#111">500</text>
<text x="173.55" y="763.70" font-size="10.3" text-anchor="middle" fill="#111">Time after irradiation (sec)</text>
<text x="39.91" y="637.00" font-size="10.3" text-anchor="middle" fill="#111" transform="rotate(-90 39.91 637.00)">GFP-CRY1 Intensity (r.a.u.)</text>
<clipPath id="cf"><rect x="60" y="540" width="267.6" height="190"/></clipPath>
<g clip-path="url(#cf)">
<path d="M72.10,721.80 L87.40,688.65 L102.70,703.10 L118.00,702.25 L133.30,716.27 L148.60,716.27 L163.90,721.80 L179.20,721.80" stroke="#174a8c" stroke-width="1.3" fill="none" stroke-linejoin="round"/>
<line x1="87.40" y1="702.67" x2="87.40" y2="674.62" stroke="#174a8c" stroke-width="1.3"/>
<line x1="84.60" y1="674.62" x2="90.20" y2="674.62" stroke="#174a8c" stroke-width="1.3"/>
<line x1="84.60" y1="702.67" x2="90.20" y2="702.67" stroke="#174a8c" stroke-width="1.3"/>
<line x1="102.70" y1="710.75" x2="102.70" y2="695.45" stroke="#174a8c" stroke-width="1.3"/>
<line x1="99.90" y1="695.45" x2="105.50" y2="695.45" stroke="#174a8c" stroke-width="1.3"/>
<line x1="99.90" y1="710.75" x2="105.50" y2="710.75" stroke="#174a8c" stroke-width="1.3"/>
<line x1="118.00" y1="712.45" x2="118.00" y2="692.05" stroke="#174a8c" stroke-width="1.3"/>
<line x1="115.20" y1="692.05" x2="120.80" y2="692.05" stroke="#174a8c" stroke-width="1.3"/>
<line x1="115.20" y1="712.45" x2="120.80" y2="712.45" stroke="#174a8c" stroke-width="1.3"/>
<line x1="133.30" y1="721.80" x2="133.30" y2="708.62" stroke="#174a8c" stroke-width="1.3"/>
<line x1="130.50" y1="708.62" x2="136.10" y2="708.62" stroke="#174a8c" stroke-width="1.3"/>
<line x1="148.60" y1="721.80" x2="148.60" y2="708.62" stroke="#174a8c" stroke-width="1.3"/>
<line x1="145.80" y1="708.62" x2="151.40" y2="708.62" stroke="#174a8c" stroke-width="1.3"/>
<line x1="163.90" y1="721.80" x2="163.90" y2="709.05" stroke="#174a8c" stroke-width="1.3"/>
<line x1="161.10" y1="709.05" x2="166.70" y2="709.05" stroke="#174a8c" stroke-width="1.3"/>
<line x1="179.20" y1="721.80" x2="179.20" y2="702.25" stroke="#174a8c" stroke-width="1.3"/>
<line x1="176.40" y1="702.25" x2="182.00" y2="702.25" stroke="#174a8c" stroke-width="1.3"/>
<circle cx="72.10" cy="721.80" r="2.6" fill="#174a8c"/>
<circle cx="87.40" cy="688.65" r="2.6" fill="#174a8c"/>
<circle cx="102.70" cy="703.10" r="2.6" fill="#174a8c"/>
<circle cx="118.00" cy="702.25" r="2.6" fill="#174a8c"/>
<circle cx="133.30" cy="716.27" r="2.6" fill="#174a8c"/>
<circle cx="148.60" cy="716.27" r="2.6" fill="#174a8c"/>
<circle cx="163.90" cy="721.80" r="2.6" fill="#174a8c"/>
<circle cx="179.20" cy="721.80" r="2.6" fill="#174a8c"/>
<path d="M72.10,721.80 L87.40,666.12 L102.70,666.12 L118.00,669.10 L133.30,661.45 L148.60,661.88 L163.90,669.52 L179.20,648.27 L194.50,653.80 L209.80,670.38 L225.10,664.85 L240.40,646.57 L255.70,653.38 L271.00,655.50 L286.30,657.62 L301.60,658.47 L316.90,667.40 L332.20,645.30" stroke="#1e9150" stroke-width="1.3" fill="none" stroke-linejoin="round"/>
<line x1="87.40" y1="680.57" x2="87.40" y2="652.52" stroke="#1e9150" stroke-width="1.3"/>
<line x1="84.60" y1="652.52" x2="90.20" y2="652.52" stroke="#1e9150" stroke-width="1.3"/>
<line x1="84.60" y1="680.57" x2="90.20" y2="680.57" stroke="#1e9150" stroke-width="1.3"/>
<line x1="102.70" y1="681.85" x2="102.70" y2="650.40" stroke="#1e9150" stroke-width="1.3"/>
<line x1="99.90" y1="650.40" x2="105.50" y2="650.40" stroke="#1e9150" stroke-width="1.3"/>
<line x1="99.90" y1="681.85" x2="105.50" y2="681.85" stroke="#1e9150" stroke-width="1.3"/>
<line x1="118.00" y1="683.97" x2="118.00" y2="654.65" stroke="#1e9150" stroke-width="1.3"/>
<line x1="115.20" y1="654.65" x2="120.80" y2="654.65" stroke="#1e9150" stroke-width="1.3"/>
<line x1="115.20" y1="683.97" x2="120.80" y2="683.97" stroke="#1e9150" stroke-width="1.3"/>
<line x1="133.30" y1="676.32" x2="133.30" y2="645.30" stroke="#1e9150" stroke-width="1.3"/>
<line x1="130.50" y1="645.30" x2="136.10" y2="645.30" stroke="#1e9150" stroke-width="1.3"/>
<line x1="130.50" y1="676.32" x2="136.10" y2="676.32" stroke="#1e9150" stroke-width="1.3"/>
<line x1="148.60" y1="685.67" x2="148.60" y2="638.92" stroke="#1e9150" stroke-width="1.3"/>
<line x1="145.80" y1="638.92" x2="151.40" y2="638.92" stroke="#1e9150" stroke-width="1.3"/>
<line x1="145.80" y1="685.67" x2="151.40" y2="685.67" stroke="#1e9150" stroke-width="1.3"/>
<line x1="163.90" y1="692.90" x2="163.90" y2="646.57" stroke="#1e9150" stroke-width="1.3"/>
<line x1="161.10" y1="646.57" x2="166.70" y2="646.57" stroke="#1e9150" stroke-width="1.3"/>
<line x1="161.10" y1="692.90" x2="166.70" y2="692.90" stroke="#1e9150" stroke-width="1.3"/>
<line x1="179.20" y1="675.90" x2="179.20" y2="619.38" stroke="#1e9150" stroke-width="1.3"/>
<line x1="176.40" y1="619.38" x2="182.00" y2="619.38" stroke="#1e9150" stroke-width="1.3"/>
<line x1="176.40" y1="675.90" x2="182.00" y2="675.90" stroke="#1e9150" stroke-width="1.3"/>
<line x1="194.50" y1="681.00" x2="194.50" y2="627.88" stroke="#1e9150" stroke-width="1.3"/>
<line x1="191.70" y1="627.88" x2="197.30" y2="627.88" stroke="#1e9150" stroke-width="1.3"/>
<line x1="191.70" y1="681.00" x2="197.30" y2="681.00" stroke="#1e9150" stroke-width="1.3"/>
<line x1="209.80" y1="701.40" x2="209.80" y2="639.35" stroke="#1e9150" stroke-width="1.3"/>
<line x1="207.00" y1="639.35" x2="212.60" y2="639.35" stroke="#1e9150" stroke-width="1.3"/>
<line x1="207.00" y1="701.40" x2="212.60" y2="701.40" stroke="#1e9150" stroke-width="1.3"/>
<line x1="225.10" y1="692.90" x2="225.10" y2="637.22" stroke="#1e9150" stroke-width="1.3"/>
<line x1="222.30" y1="637.22" x2="227.90" y2="637.22" stroke="#1e9150" stroke-width="1.3"/>
<line x1="222.30" y1="692.90" x2="227.90" y2="692.90" stroke="#1e9150" stroke-width="1.3"/>
<line x1="240.40" y1="672.50" x2="240.40" y2="620.65" stroke="#1e9150" stroke-width="1.3"/>
<line x1="237.60" y1="620.65" x2="243.20" y2="620.65" stroke="#1e9150" stroke-width="1.3"/>
<line x1="237.60" y1="672.50" x2="243.20" y2="672.50" stroke="#1e9150" stroke-width="1.3"/>
<line x1="255.70" y1="678.45" x2="255.70" y2="628.30" stroke="#1e9150" stroke-width="1.3"/>
<line x1="252.90" y1="628.30" x2="258.50" y2="628.30" stroke="#1e9150" stroke-width="1.3"/>
<line x1="252.90" y1="678.45" x2="258.50" y2="678.45" stroke="#1e9150" stroke-width="1.3"/>
<line x1="271.00" y1="673.35" x2="271.00" y2="637.65" stroke="#1e9150" stroke-width="1.3"/>
<line x1="268.20" y1="637.65" x2="273.80" y2="637.65" stroke="#1e9150" stroke-width="1.3"/>
<line x1="268.20" y1="673.35" x2="273.80" y2="673.35" stroke="#1e9150" stroke-width="1.3"/>
<line x1="286.30" y1="681.00" x2="286.30" y2="634.67" stroke="#1e9150" stroke-width="1.3"/>
<line x1="283.50" y1="634.67" x2="289.10" y2="634.67" stroke="#1e9150" stroke-width="1.3"/>
<line x1="283.50" y1="681.00" x2="289.10" y2="681.00" stroke="#1e9150" stroke-width="1.3"/>
<line x1="301.60" y1="681.00" x2="301.60" y2="635.10" stroke="#1e9150" stroke-width="1.3"/>
<line x1="298.80" y1="635.10" x2="304.40" y2="635.10" stroke="#1e9150" stroke-width="1.3"/>
<line x1="298.80" y1="681.00" x2="304.40" y2="681.00" stroke="#1e9150" stroke-width="1.3"/>
<line x1="316.90" y1="690.35" x2="316.90" y2="645.30" stroke="#1e9150" stroke-width="1.3"/>
<line x1="314.10" y1="645.30" x2="319.70" y2="645.30" stroke="#1e9150" stroke-width="1.3"/>
<line x1="314.10" y1="690.35" x2="319.70" y2="690.35" stroke="#1e9150" stroke-width="1.3"/>
<circle cx="72.10" cy="721.80" r="2.6" fill="#1e9150"/>
<circle cx="87.40" cy="666.12" r="2.6" fill="#1e9150"/>
<circle cx="102.70" cy="666.12" r="2.6" fill="#1e9150"/>
<circle cx="118.00" cy="669.10" r="2.6" fill="#1e9150"/>
<circle cx="133.30" cy="661.45" r="2.6" fill="#1e9150"/>
<circle cx="148.60" cy="661.88" r="2.6" fill="#1e9150"/>
<circle cx="163.90" cy="669.52" r="2.6" fill="#1e9150"/>
<circle cx="179.20" cy="648.27" r="2.6" fill="#1e9150"/>
<circle cx="194.50" cy="653.80" r="2.6" fill="#1e9150"/>
<circle cx="209.80" cy="670.38" r="2.6" fill="#1e9150"/>
<circle cx="225.10" cy="664.85" r="2.6" fill="#1e9150"/>
<circle cx="240.40" cy="646.57" r="2.6" fill="#1e9150"/>
<circle cx="255.70" cy="653.38" r="2.6" fill="#1e9150"/>
<circle cx="271.00" cy="655.50" r="2.6" fill="#1e9150"/>
<circle cx="286.30" cy="657.62" r="2.6" fill="#1e9150"/>
<circle cx="301.60" cy="658.47" r="2.6" fill="#1e9150"/>
<circle cx="316.90" cy="667.40" r="2.6" fill="#1e9150"/>
<path d="M72.10,721.80 L87.40,627.45 L102.70,633.82 L118.00,629.57 L133.30,630.85 L148.60,655.07 L163.90,671.22 L179.20,689.07 L194.50,684.82 L209.80,684.82 L225.10,684.82 L240.40,684.40 L255.70,696.30 L271.00,685.25 L286.30,677.60 L301.60,671.22 L316.90,671.65 L323.50,721.80" stroke="#c0283c" stroke-width="1.3" fill="none" stroke-linejoin="round"/>
<line x1="87.40" y1="661.88" x2="87.40" y2="593.02" stroke="#c0283c" stroke-width="1.3"/>
<line x1="84.60" y1="593.02" x2="90.20" y2="593.02" stroke="#c0283c" stroke-width="1.3"/>
<line x1="84.60" y1="661.88" x2="90.20" y2="661.88" stroke="#c0283c" stroke-width="1.3"/>
<line x1="102.70" y1="666.12" x2="102.70" y2="600.67" stroke="#c0283c" stroke-width="1.3"/>
<line x1="99.90" y1="600.67" x2="105.50" y2="600.67" stroke="#c0283c" stroke-width="1.3"/>
<line x1="99.90" y1="666.12" x2="105.50" y2="666.12" stroke="#c0283c" stroke-width="1.3"/>
<line x1="118.00" y1="654.65" x2="118.00" y2="604.07" stroke="#c0283c" stroke-width="1.3"/>
<line x1="115.20" y1="604.07" x2="120.80" y2="604.07" stroke="#c0283c" stroke-width="1.3"/>
<line x1="115.20" y1="654.65" x2="120.80" y2="654.65" stroke="#c0283c" stroke-width="1.3"/>
<line x1="133.30" y1="658.90" x2="133.30" y2="601.95" stroke="#c0283c" stroke-width="1.3"/>
<line x1="130.50" y1="601.95" x2="136.10" y2="601.95" stroke="#c0283c" stroke-width="1.3"/>
<line x1="130.50" y1="658.90" x2="136.10" y2="658.90" stroke="#c0283c" stroke-width="1.3"/>
<line x1="148.60" y1="668.67" x2="148.60" y2="640.62" stroke="#c0283c" stroke-width="1.3"/>
<line x1="145.80" y1="640.62" x2="151.40" y2="640.62" stroke="#c0283c" stroke-width="1.3"/>
<line x1="145.80" y1="668.67" x2="151.40" y2="668.67" stroke="#c0283c" stroke-width="1.3"/>
<line x1="163.90" y1="695.45" x2="163.90" y2="647.00" stroke="#c0283c" stroke-width="1.3"/>
<line x1="161.10" y1="647.00" x2="166.70" y2="647.00" stroke="#c0283c" stroke-width="1.3"/>
<line x1="161.10" y1="695.45" x2="166.70" y2="695.45" stroke="#c0283c" stroke-width="1.3"/>
<line x1="179.20" y1="721.80" x2="179.20" y2="647.00" stroke="#c0283c" stroke-width="1.3"/>
<line x1="176.40" y1="647.00" x2="182.00" y2="647.00" stroke="#c0283c" stroke-width="1.3"/>
<line x1="194.50" y1="721.80" x2="194.50" y2="642.75" stroke="#c0283c" stroke-width="1.3"/>
<line x1="191.70" y1="642.75" x2="197.30" y2="642.75" stroke="#c0283c" stroke-width="1.3"/>
<line x1="209.80" y1="718.82" x2="209.80" y2="650.82" stroke="#c0283c" stroke-width="1.3"/>
<line x1="207.00" y1="650.82" x2="212.60" y2="650.82" stroke="#c0283c" stroke-width="1.3"/>
<line x1="207.00" y1="718.82" x2="212.60" y2="718.82" stroke="#c0283c" stroke-width="1.3"/>
<line x1="225.10" y1="721.80" x2="225.10" y2="645.30" stroke="#c0283c" stroke-width="1.3"/>
<line x1="222.30" y1="645.30" x2="227.90" y2="645.30" stroke="#c0283c" stroke-width="1.3"/>
<line x1="240.40" y1="708.62" x2="240.40" y2="659.32" stroke="#c0283c" stroke-width="1.3"/>
<line x1="237.60" y1="659.32" x2="243.20" y2="659.32" stroke="#c0283c" stroke-width="1.3"/>
<line x1="237.60" y1="708.62" x2="243.20" y2="708.62" stroke="#c0283c" stroke-width="1.3"/>
<line x1="255.70" y1="721.38" x2="255.70" y2="671.65" stroke="#c0283c" stroke-width="1.3"/>
<line x1="252.90" y1="671.65" x2="258.50" y2="671.65" stroke="#c0283c" stroke-width="1.3"/>
<line x1="252.90" y1="721.38" x2="258.50" y2="721.38" stroke="#c0283c" stroke-width="1.3"/>
<line x1="271.00" y1="709.90" x2="271.00" y2="659.75" stroke="#c0283c" stroke-width="1.3"/>
<line x1="268.20" y1="659.75" x2="273.80" y2="659.75" stroke="#c0283c" stroke-width="1.3"/>
<line x1="268.20" y1="709.90" x2="273.80" y2="709.90" stroke="#c0283c" stroke-width="1.3"/>
<line x1="286.30" y1="704.38" x2="286.30" y2="650.40" stroke="#c0283c" stroke-width="1.3"/>
<line x1="283.50" y1="650.40" x2="289.10" y2="650.40" stroke="#c0283c" stroke-width="1.3"/>
<line x1="283.50" y1="704.38" x2="289.10" y2="704.38" stroke="#c0283c" stroke-width="1.3"/>
<line x1="301.60" y1="698.42" x2="301.60" y2="642.75" stroke="#c0283c" stroke-width="1.3"/>
<line x1="298.80" y1="642.75" x2="304.40" y2="642.75" stroke="#c0283c" stroke-width="1.3"/>
<line x1="298.80" y1="698.42" x2="304.40" y2="698.42" stroke="#c0283c" stroke-width="1.3"/>
<line x1="316.90" y1="709.47" x2="316.90" y2="633.82" stroke="#c0283c" stroke-width="1.3"/>
<line x1="314.10" y1="633.82" x2="319.70" y2="633.82" stroke="#c0283c" stroke-width="1.3"/>
<line x1="314.10" y1="709.47" x2="319.70" y2="709.47" stroke="#c0283c" stroke-width="1.3"/>
<circle cx="72.10" cy="721.80" r="2.6" fill="#c0283c"/>
<circle cx="87.40" cy="627.45" r="2.6" fill="#c0283c"/>
<circle cx="102.70" cy="633.82" r="2.6" fill="#c0283c"/>
<circle cx="118.00" cy="629.57" r="2.6" fill="#c0283c"/>
<circle cx="133.30" cy="630.85" r="2.6" fill="#c0283c"/>
<circle cx="148.60" cy="655.07" r="2.6" fill="#c0283c"/>
<circle cx="163.90" cy="671.22" r="2.6" fill="#c0283c"/>
<circle cx="179.20" cy="689.07" r="2.6" fill="#c0283c"/>
<circle cx="194.50" cy="684.82" r="2.6" fill="#c0283c"/>
<circle cx="209.80" cy="684.82" r="2.6" fill="#c0283c"/>
<circle cx="225.10" cy="684.82" r="2.6" fill="#c0283c"/>
<circle cx="240.40" cy="684.40" r="2.6" fill="#c0283c"/>
<circle cx="255.70" cy="696.30" r="2.6" fill="#c0283c"/>
<circle cx="271.00" cy="685.25" r="2.6" fill="#c0283c"/>
<circle cx="286.30" cy="677.60" r="2.6" fill="#c0283c"/>
<circle cx="301.60" cy="671.22" r="2.6" fill="#c0283c"/>
<circle cx="316.90" cy="671.65" r="2.6" fill="#c0283c"/>
</g>
<line x1="178.50" y1="558.60" x2="197.50" y2="558.60" stroke="#c0283c" stroke-width="1.4"/>
<circle cx="187.80" cy="558.60" r="2.6" fill="#c0283c"/>
<text x="207.00" y="562.80" font-size="10.4" text-anchor="start" fill="#111">GFP-CRY1-WT</text>
<line x1="178.50" y1="574.20" x2="197.50" y2="574.20" stroke="#174a8c" stroke-width="1.4"/>
<circle cx="187.80" cy="574.20" r="2.6" fill="#174a8c"/>
<text x="207.00" y="578.40" font-size="10.4" text-anchor="start" fill="#111">GFP-CRY1-3A</text>
<line x1="179.30" y1="589.30" x2="198.30" y2="589.30" stroke="#1e9150" stroke-width="1.4"/>
<circle cx="188.60" cy="589.30" r="2.6" fill="#1e9150"/>
<text x="207.80" y="593.50" font-size="10.4" text-anchor="start" fill="#111">GFP-CRY1-3E</text>
<text x="345.80" y="526.30" font-size="14.5" text-anchor="start" font-weight="bold" fill="#2a1410">G</text>
<line x1="398.80" y1="574.70" x2="398.80" y2="712.00" stroke="#111" stroke-width="1.5"/>
<line x1="392.50" y1="575.30" x2="398.80" y2="575.30" stroke="#111" stroke-width="1.4"/>
<text x="391.70" y="579.90" font-size="10.2" text-anchor="end" fill="#111">100</text>
<line x1="392.50" y1="602.52" x2="398.80" y2="602.52" stroke="#111" stroke-width="1.4"/>
<text x="391.70" y="607.12" font-size="10.2" text-anchor="end" fill="#111">80</text>
<line x1="392.50" y1="629.74" x2="398.80" y2="629.74" stroke="#111" stroke-width="1.4"/>
<text x="391.70" y="634.34" font-size="10.2" text-anchor="end" fill="#111">60</text>
<line x1="392.50" y1="656.96" x2="398.80" y2="656.96" stroke="#111" stroke-width="1.4"/>
<text x="391.70" y="661.56" font-size="10.2" text-anchor="end" fill="#111">40</text>
<line x1="392.50" y1="684.18" x2="398.80" y2="684.18" stroke="#111" stroke-width="1.4"/>
<text x="391.70" y="688.78" font-size="10.2" text-anchor="end" fill="#111">20</text>
<line x1="392.50" y1="711.40" x2="398.80" y2="711.40" stroke="#111" stroke-width="1.4"/>
<text x="391.70" y="716.00" font-size="10.2" text-anchor="end" fill="#111">0</text>
<line x1="398.80" y1="711.40" x2="603.30" y2="711.40" stroke="#111" stroke-width="1.5"/>
<line x1="417.33" y1="711.40" x2="417.33" y2="714.90" stroke="#111" stroke-width="1.3"/>
<line x1="435.86" y1="711.40" x2="435.86" y2="714.90" stroke="#111" stroke-width="1.3"/>
<line x1="454.39" y1="711.40" x2="454.39" y2="714.90" stroke="#111" stroke-width="1.3"/>
<line x1="472.92" y1="711.40" x2="472.92" y2="714.90" stroke="#111" stroke-width="1.3"/>
<line x1="491.45" y1="711.40" x2="491.45" y2="714.90" stroke="#111" stroke-width="1.3"/>
<line x1="509.98" y1="711.40" x2="509.98" y2="714.90" stroke="#111" stroke-width="1.3"/>
<line x1="528.51" y1="711.40" x2="528.51" y2="714.90" stroke="#111" stroke-width="1.3"/>
<line x1="547.04" y1="711.40" x2="547.04" y2="714.90" stroke="#111" stroke-width="1.3"/>
<line x1="565.57" y1="711.40" x2="565.57" y2="714.90" stroke="#111" stroke-width="1.3"/>
<line x1="584.10" y1="711.40" x2="584.10" y2="714.90" stroke="#111" stroke-width="1.3"/>
<line x1="602.63" y1="711.40" x2="602.63" y2="714.90" stroke="#111" stroke-width="1.3"/>
<text x="398.80" y="726.80" font-size="10.5" text-anchor="middle" fill="#111">0</text>
<text x="435.86" y="726.80" font-size="10.5" text-anchor="middle" fill="#111">20</text>
<text x="472.92" y="726.80" font-size="10.5" text-anchor="middle" fill="#111">40</text>
<text x="509.98" y="726.80" font-size="10.5" text-anchor="middle" fill="#111">60</text>
<text x="547.04" y="726.80" font-size="10.5" text-anchor="middle" fill="#111">80</text>
<text x="584.10" y="726.80" font-size="10.5" text-anchor="middle" fill="#111">100</text>
<text x="496.00" y="742.00" font-size="10.9" text-anchor="middle" fill="#111">Time after irradiation (sec)</text>
<text x="369.72" y="646.00" font-size="10.9" text-anchor="middle" fill="#111" transform="rotate(-90 369.72 646.00)">GFP-CRY1 Intensity (r.a.u.)</text>
<path d="M398.80,711.40 L417.33,693.84 L435.86,677.38 L454.39,677.38 L472.92,676.83 L491.45,677.92 L509.98,685.13 L528.51,685.00 L547.04,685.54 L565.57,686.22 L584.10,687.45 L602.63,687.45" stroke="#5b9bd5" stroke-width="1.4" fill="none" stroke-linejoin="round"/>
<line x1="417.33" y1="699.29" x2="417.33" y2="687.45" stroke="#5b9bd5" stroke-width="1.4"/>
<line x1="414.33" y1="687.45" x2="420.33" y2="687.45" stroke="#5b9bd5" stroke-width="1.4"/>
<line x1="414.33" y1="699.29" x2="420.33" y2="699.29" stroke="#5b9bd5" stroke-width="1.4"/>
<line x1="435.86" y1="686.63" x2="435.86" y2="668.66" stroke="#5b9bd5" stroke-width="1.4"/>
<line x1="432.86" y1="668.66" x2="438.86" y2="668.66" stroke="#5b9bd5" stroke-width="1.4"/>
<line x1="432.86" y1="686.63" x2="438.86" y2="686.63" stroke="#5b9bd5" stroke-width="1.4"/>
<line x1="454.39" y1="686.63" x2="454.39" y2="668.66" stroke="#5b9bd5" stroke-width="1.4"/>
<line x1="451.39" y1="668.66" x2="457.39" y2="668.66" stroke="#5b9bd5" stroke-width="1.4"/>
<line x1="451.39" y1="686.63" x2="457.39" y2="686.63" stroke="#5b9bd5" stroke-width="1.4"/>
<line x1="472.92" y1="686.63" x2="472.92" y2="668.66" stroke="#5b9bd5" stroke-width="1.4"/>
<line x1="469.92" y1="668.66" x2="475.92" y2="668.66" stroke="#5b9bd5" stroke-width="1.4"/>
<line x1="469.92" y1="686.63" x2="475.92" y2="686.63" stroke="#5b9bd5" stroke-width="1.4"/>
<line x1="491.45" y1="686.63" x2="491.45" y2="669.21" stroke="#5b9bd5" stroke-width="1.4"/>
<line x1="488.45" y1="669.21" x2="494.45" y2="669.21" stroke="#5b9bd5" stroke-width="1.4"/>
<line x1="488.45" y1="686.63" x2="494.45" y2="686.63" stroke="#5b9bd5" stroke-width="1.4"/>
<line x1="509.98" y1="694.25" x2="509.98" y2="676.29" stroke="#5b9bd5" stroke-width="1.4"/>
<line x1="506.98" y1="676.29" x2="512.98" y2="676.29" stroke="#5b9bd5" stroke-width="1.4"/>
<line x1="506.98" y1="694.25" x2="512.98" y2="694.25" stroke="#5b9bd5" stroke-width="1.4"/>
<line x1="528.51" y1="694.39" x2="528.51" y2="673.56" stroke="#5b9bd5" stroke-width="1.4"/>
<line x1="525.51" y1="673.56" x2="531.51" y2="673.56" stroke="#5b9bd5" stroke-width="1.4"/>
<line x1="525.51" y1="694.39" x2="531.51" y2="694.39" stroke="#5b9bd5" stroke-width="1.4"/>
<line x1="547.04" y1="696.02" x2="547.04" y2="674.79" stroke="#5b9bd5" stroke-width="1.4"/>
<line x1="544.04" y1="674.79" x2="550.04" y2="674.79" stroke="#5b9bd5" stroke-width="1.4"/>
<line x1="544.04" y1="696.02" x2="550.04" y2="696.02" stroke="#5b9bd5" stroke-width="1.4"/>
<line x1="565.57" y1="699.01" x2="565.57" y2="674.79" stroke="#5b9bd5" stroke-width="1.4"/>
<line x1="562.57" y1="674.79" x2="568.57" y2="674.79" stroke="#5b9bd5" stroke-width="1.4"/>
<line x1="562.57" y1="699.01" x2="568.57" y2="699.01" stroke="#5b9bd5" stroke-width="1.4"/>
<line x1="584.10" y1="700.24" x2="584.10" y2="676.01" stroke="#5b9bd5" stroke-width="1.4"/>
<line x1="581.10" y1="676.01" x2="587.10" y2="676.01" stroke="#5b9bd5" stroke-width="1.4"/>
<line x1="581.10" y1="700.24" x2="587.10" y2="700.24" stroke="#5b9bd5" stroke-width="1.4"/>
<line x1="602.63" y1="699.01" x2="602.63" y2="673.02" stroke="#5b9bd5" stroke-width="1.4"/>
<line x1="599.63" y1="673.02" x2="605.63" y2="673.02" stroke="#5b9bd5" stroke-width="1.4"/>
<line x1="599.63" y1="699.01" x2="605.63" y2="699.01" stroke="#5b9bd5" stroke-width="1.4"/>
<circle cx="398.80" cy="711.40" r="3.3" fill="#5b9bd5"/>
<circle cx="417.33" cy="693.84" r="3.3" fill="#5b9bd5"/>
<circle cx="435.86" cy="677.38" r="3.3" fill="#5b9bd5"/>
<circle cx="454.39" cy="677.38" r="3.3" fill="#5b9bd5"/>
<circle cx="472.92" cy="676.83" r="3.3" fill="#5b9bd5"/>
<circle cx="491.45" cy="677.92" r="3.3" fill="#5b9bd5"/>
<circle cx="509.98" cy="685.13" r="3.3" fill="#5b9bd5"/>
<circle cx="528.51" cy="685.00" r="3.3" fill="#5b9bd5"/>
<circle cx="547.04" cy="685.54" r="3.3" fill="#5b9bd5"/>
<circle cx="565.57" cy="686.22" r="3.3" fill="#5b9bd5"/>
<circle cx="584.10" cy="687.45" r="3.3" fill="#5b9bd5"/>
<circle cx="602.63" cy="687.45" r="3.3" fill="#5b9bd5"/>
<path d="M398.80,711.40 L417.33,680.64 L435.86,665.40 L454.39,666.08 L472.92,669.75 L491.45,673.02 L509.98,675.20 L528.51,681.87 L547.04,679.42 L565.57,685.00 L584.10,686.22 L602.63,685.54" stroke="#0d3f85" stroke-width="1.4" fill="none" stroke-linejoin="round"/>
<line x1="417.33" y1="685.00" x2="417.33" y2="676.29" stroke="#0d3f85" stroke-width="1.4"/>
<line x1="414.33" y1="676.29" x2="420.33" y2="676.29" stroke="#0d3f85" stroke-width="1.4"/>
<line x1="414.33" y1="685.00" x2="420.33" y2="685.00" stroke="#0d3f85" stroke-width="1.4"/>
<line x1="435.86" y1="672.34" x2="435.86" y2="658.18" stroke="#0d3f85" stroke-width="1.4"/>
<line x1="432.86" y1="658.18" x2="438.86" y2="658.18" stroke="#0d3f85" stroke-width="1.4"/>
<line x1="432.86" y1="672.34" x2="438.86" y2="672.34" stroke="#0d3f85" stroke-width="1.4"/>
<line x1="454.39" y1="673.02" x2="454.39" y2="659.41" stroke="#0d3f85" stroke-width="1.4"/>
<line x1="451.39" y1="659.41" x2="457.39" y2="659.41" stroke="#0d3f85" stroke-width="1.4"/>
<line x1="451.39" y1="673.02" x2="457.39" y2="673.02" stroke="#0d3f85" stroke-width="1.4"/>
<line x1="472.92" y1="676.29" x2="472.92" y2="663.22" stroke="#0d3f85" stroke-width="1.4"/>
<line x1="469.92" y1="663.22" x2="475.92" y2="663.22" stroke="#0d3f85" stroke-width="1.4"/>
<line x1="469.92" y1="676.29" x2="475.92" y2="676.29" stroke="#0d3f85" stroke-width="1.4"/>
<line x1="491.45" y1="681.19" x2="491.45" y2="664.72" stroke="#0d3f85" stroke-width="1.4"/>
<line x1="488.45" y1="664.72" x2="494.45" y2="664.72" stroke="#0d3f85" stroke-width="1.4"/>
<line x1="488.45" y1="681.19" x2="494.45" y2="681.19" stroke="#0d3f85" stroke-width="1.4"/>
<line x1="509.98" y1="683.36" x2="509.98" y2="666.49" stroke="#0d3f85" stroke-width="1.4"/>
<line x1="506.98" y1="666.49" x2="512.98" y2="666.49" stroke="#0d3f85" stroke-width="1.4"/>
<line x1="506.98" y1="683.36" x2="512.98" y2="683.36" stroke="#0d3f85" stroke-width="1.4"/>
<line x1="528.51" y1="695.20" x2="528.51" y2="669.62" stroke="#0d3f85" stroke-width="1.4"/>
<line x1="525.51" y1="669.62" x2="531.51" y2="669.62" stroke="#0d3f85" stroke-width="1.4"/>
<line x1="525.51" y1="695.20" x2="531.51" y2="695.20" stroke="#0d3f85" stroke-width="1.4"/>
<line x1="547.04" y1="695.20" x2="547.04" y2="664.45" stroke="#0d3f85" stroke-width="1.4"/>
<line x1="544.04" y1="664.45" x2="550.04" y2="664.45" stroke="#0d3f85" stroke-width="1.4"/>
<line x1="544.04" y1="695.20" x2="550.04" y2="695.20" stroke="#0d3f85" stroke-width="1.4"/>
<line x1="565.57" y1="700.78" x2="565.57" y2="667.85" stroke="#0d3f85" stroke-width="1.4"/>
<line x1="562.57" y1="667.85" x2="568.57" y2="667.85" stroke="#0d3f85" stroke-width="1.4"/>
<line x1="562.57" y1="700.78" x2="568.57" y2="700.78" stroke="#0d3f85" stroke-width="1.4"/>
<line x1="584.10" y1="703.37" x2="584.10" y2="669.62" stroke="#0d3f85" stroke-width="1.4"/>
<line x1="581.10" y1="669.62" x2="587.10" y2="669.62" stroke="#0d3f85" stroke-width="1.4"/>
<line x1="581.10" y1="703.37" x2="587.10" y2="703.37" stroke="#0d3f85" stroke-width="1.4"/>
<line x1="602.63" y1="703.64" x2="602.63" y2="673.02" stroke="#0d3f85" stroke-width="1.4"/>
<line x1="599.63" y1="673.02" x2="605.63" y2="673.02" stroke="#0d3f85" stroke-width="1.4"/>
<line x1="599.63" y1="703.64" x2="605.63" y2="703.64" stroke="#0d3f85" stroke-width="1.4"/>
<circle cx="398.80" cy="711.40" r="3.3" fill="#0d3f85"/>
<circle cx="417.33" cy="680.64" r="3.3" fill="#0d3f85"/>
<circle cx="435.86" cy="665.40" r="3.3" fill="#0d3f85"/>
<circle cx="454.39" cy="666.08" r="3.3" fill="#0d3f85"/>
<circle cx="472.92" cy="669.75" r="3.3" fill="#0d3f85"/>
<circle cx="491.45" cy="673.02" r="3.3" fill="#0d3f85"/>
<circle cx="509.98" cy="675.20" r="3.3" fill="#0d3f85"/>
<circle cx="528.51" cy="681.87" r="3.3" fill="#0d3f85"/>
<circle cx="547.04" cy="679.42" r="3.3" fill="#0d3f85"/>
<circle cx="565.57" cy="685.00" r="3.3" fill="#0d3f85"/>
<circle cx="584.10" cy="686.22" r="3.3" fill="#0d3f85"/>
<circle cx="602.63" cy="685.54" r="3.3" fill="#0d3f85"/>
<path d="M398.80,711.40 L417.33,666.90 L435.86,634.64 L454.39,635.32 L472.92,634.10 L491.45,639.54 L509.98,640.63 L528.51,644.17 L547.04,650.56 L565.57,652.47 L584.10,655.60 L602.63,656.96" stroke="#1a9148" stroke-width="1.4" fill="none" stroke-linejoin="round"/>
<line x1="417.33" y1="676.29" x2="417.33" y2="657.10" stroke="#1a9148" stroke-width="1.4"/>
<line x1="414.33" y1="657.10" x2="420.33" y2="657.10" stroke="#1a9148" stroke-width="1.4"/>
<line x1="414.33" y1="676.29" x2="420.33" y2="676.29" stroke="#1a9148" stroke-width="1.4"/>
<line x1="435.86" y1="650.43" x2="435.86" y2="620.08" stroke="#1a9148" stroke-width="1.4"/>
<line x1="432.86" y1="620.08" x2="438.86" y2="620.08" stroke="#1a9148" stroke-width="1.4"/>
<line x1="432.86" y1="650.43" x2="438.86" y2="650.43" stroke="#1a9148" stroke-width="1.4"/>
<line x1="454.39" y1="649.61" x2="454.39" y2="621.17" stroke="#1a9148" stroke-width="1.4"/>
<line x1="451.39" y1="621.17" x2="457.39" y2="621.17" stroke="#1a9148" stroke-width="1.4"/>
<line x1="451.39" y1="649.61" x2="457.39" y2="649.61" stroke="#1a9148" stroke-width="1.4"/>
<line x1="472.92" y1="650.15" x2="472.92" y2="618.99" stroke="#1a9148" stroke-width="1.4"/>
<line x1="469.92" y1="618.99" x2="475.92" y2="618.99" stroke="#1a9148" stroke-width="1.4"/>
<line x1="469.92" y1="650.15" x2="475.92" y2="650.15" stroke="#1a9148" stroke-width="1.4"/>
<line x1="491.45" y1="654.92" x2="491.45" y2="623.75" stroke="#1a9148" stroke-width="1.4"/>
<line x1="488.45" y1="623.75" x2="494.45" y2="623.75" stroke="#1a9148" stroke-width="1.4"/>
<line x1="488.45" y1="654.92" x2="494.45" y2="654.92" stroke="#1a9148" stroke-width="1.4"/>
<line x1="509.98" y1="658.18" x2="509.98" y2="622.66" stroke="#1a9148" stroke-width="1.4"/>
<line x1="506.98" y1="622.66" x2="512.98" y2="622.66" stroke="#1a9148" stroke-width="1.4"/>
<line x1="506.98" y1="658.18" x2="512.98" y2="658.18" stroke="#1a9148" stroke-width="1.4"/>
<line x1="528.51" y1="661.18" x2="528.51" y2="624.84" stroke="#1a9148" stroke-width="1.4"/>
<line x1="525.51" y1="624.84" x2="531.51" y2="624.84" stroke="#1a9148" stroke-width="1.4"/>
<line x1="525.51" y1="661.18" x2="531.51" y2="661.18" stroke="#1a9148" stroke-width="1.4"/>
<line x1="547.04" y1="669.62" x2="547.04" y2="629.33" stroke="#1a9148" stroke-width="1.4"/>
<line x1="544.04" y1="629.33" x2="550.04" y2="629.33" stroke="#1a9148" stroke-width="1.4"/>
<line x1="544.04" y1="669.62" x2="550.04" y2="669.62" stroke="#1a9148" stroke-width="1.4"/>
<line x1="565.57" y1="672.20" x2="565.57" y2="631.24" stroke="#1a9148" stroke-width="1.4"/>
<line x1="562.57" y1="631.24" x2="568.57" y2="631.24" stroke="#1a9148" stroke-width="1.4"/>
<line x1="562.57" y1="672.20" x2="568.57" y2="672.20" stroke="#1a9148" stroke-width="1.4"/>
<line x1="584.10" y1="677.24" x2="584.10" y2="633.41" stroke="#1a9148" stroke-width="1.4"/>
<line x1="581.10" y1="633.41" x2="587.10" y2="633.41" stroke="#1a9148" stroke-width="1.4"/>
<line x1="581.10" y1="677.24" x2="587.10" y2="677.24" stroke="#1a9148" stroke-width="1.4"/>
<line x1="602.63" y1="672.20" x2="602.63" y2="640.36" stroke="#1a9148" stroke-width="1.4"/>
<line x1="599.63" y1="640.36" x2="605.63" y2="640.36" stroke="#1a9148" stroke-width="1.4"/>
<line x1="599.63" y1="672.20" x2="605.63" y2="672.20" stroke="#1a9148" stroke-width="1.4"/>
<circle cx="398.80" cy="711.40" r="3.3" fill="#1a9148"/>
<circle cx="417.33" cy="666.90" r="3.3" fill="#1a9148"/>
<circle cx="435.86" cy="634.64" r="3.3" fill="#1a9148"/>
<circle cx="454.39" cy="635.32" r="3.3" fill="#1a9148"/>
<circle cx="472.92" cy="634.10" r="3.3" fill="#1a9148"/>
<circle cx="491.45" cy="639.54" r="3.3" fill="#1a9148"/>
<circle cx="509.98" cy="640.63" r="3.3" fill="#1a9148"/>
<circle cx="528.51" cy="644.17" r="3.3" fill="#1a9148"/>
<circle cx="547.04" cy="650.56" r="3.3" fill="#1a9148"/>
<circle cx="565.57" cy="652.47" r="3.3" fill="#1a9148"/>
<circle cx="584.10" cy="655.60" r="3.3" fill="#1a9148"/>
<circle cx="602.63" cy="656.96" r="3.3" fill="#1a9148"/>
<path d="M398.80,711.40 L417.33,691.12 L435.86,636.27 L454.39,628.79 L472.92,621.57 L491.45,621.98 L509.98,626.61 L528.51,630.56 L547.04,635.18 L565.57,635.18 L584.10,637.63 L602.63,643.62" stroke="#b8202e" stroke-width="1.4" fill="none" stroke-linejoin="round"/>
<line x1="417.33" y1="699.29" x2="417.33" y2="682.82" stroke="#b8202e" stroke-width="1.4"/>
<line x1="414.33" y1="682.82" x2="420.33" y2="682.82" stroke="#b8202e" stroke-width="1.4"/>
<line x1="414.33" y1="699.29" x2="420.33" y2="699.29" stroke="#b8202e" stroke-width="1.4"/>
<line x1="435.86" y1="650.15" x2="435.86" y2="620.89" stroke="#b8202e" stroke-width="1.4"/>
<line x1="432.86" y1="620.89" x2="438.86" y2="620.89" stroke="#b8202e" stroke-width="1.4"/>
<line x1="432.86" y1="650.15" x2="438.86" y2="650.15" stroke="#b8202e" stroke-width="1.4"/>
<line x1="454.39" y1="644.98" x2="454.39" y2="612.18" stroke="#b8202e" stroke-width="1.4"/>
<line x1="451.39" y1="612.18" x2="457.39" y2="612.18" stroke="#b8202e" stroke-width="1.4"/>
<line x1="451.39" y1="644.98" x2="457.39" y2="644.98" stroke="#b8202e" stroke-width="1.4"/>
<line x1="472.92" y1="638.72" x2="472.92" y2="604.56" stroke="#b8202e" stroke-width="1.4"/>
<line x1="469.92" y1="604.56" x2="475.92" y2="604.56" stroke="#b8202e" stroke-width="1.4"/>
<line x1="469.92" y1="638.72" x2="475.92" y2="638.72" stroke="#b8202e" stroke-width="1.4"/>
<line x1="491.45" y1="639.81" x2="491.45" y2="604.02" stroke="#b8202e" stroke-width="1.4"/>
<line x1="488.45" y1="604.02" x2="494.45" y2="604.02" stroke="#b8202e" stroke-width="1.4"/>
<line x1="488.45" y1="639.81" x2="494.45" y2="639.81" stroke="#b8202e" stroke-width="1.4"/>
<line x1="509.98" y1="644.17" x2="509.98" y2="609.05" stroke="#b8202e" stroke-width="1.4"/>
<line x1="506.98" y1="609.05" x2="512.98" y2="609.05" stroke="#b8202e" stroke-width="1.4"/>
<line x1="506.98" y1="644.17" x2="512.98" y2="644.17" stroke="#b8202e" stroke-width="1.4"/>
<line x1="528.51" y1="651.79" x2="528.51" y2="610.96" stroke="#b8202e" stroke-width="1.4"/>
<line x1="525.51" y1="610.96" x2="531.51" y2="610.96" stroke="#b8202e" stroke-width="1.4"/>
<line x1="525.51" y1="651.79" x2="531.51" y2="651.79" stroke="#b8202e" stroke-width="1.4"/>
<line x1="547.04" y1="656.96" x2="547.04" y2="614.77" stroke="#b8202e" stroke-width="1.4"/>
<line x1="544.04" y1="614.77" x2="550.04" y2="614.77" stroke="#b8202e" stroke-width="1.4"/>
<line x1="544.04" y1="656.96" x2="550.04" y2="656.96" stroke="#b8202e" stroke-width="1.4"/>
<line x1="565.57" y1="656.96" x2="565.57" y2="612.18" stroke="#b8202e" stroke-width="1.4"/>
<line x1="562.57" y1="612.18" x2="568.57" y2="612.18" stroke="#b8202e" stroke-width="1.4"/>
<line x1="562.57" y1="656.96" x2="568.57" y2="656.96" stroke="#b8202e" stroke-width="1.4"/>
<line x1="584.10" y1="660.63" x2="584.10" y2="614.22" stroke="#b8202e" stroke-width="1.4"/>
<line x1="581.10" y1="614.22" x2="587.10" y2="614.22" stroke="#b8202e" stroke-width="1.4"/>
<line x1="581.10" y1="660.63" x2="587.10" y2="660.63" stroke="#b8202e" stroke-width="1.4"/>
<line x1="602.63" y1="667.17" x2="602.63" y2="620.35" stroke="#b8202e" stroke-width="1.4"/>
<line x1="599.63" y1="620.35" x2="605.63" y2="620.35" stroke="#b8202e" stroke-width="1.4"/>
<line x1="599.63" y1="667.17" x2="605.63" y2="667.17" stroke="#b8202e" stroke-width="1.4"/>
<circle cx="398.80" cy="711.40" r="3.3" fill="#b8202e"/>
<circle cx="417.33" cy="691.12" r="3.3" fill="#b8202e"/>
<circle cx="435.86" cy="636.27" r="3.3" fill="#b8202e"/>
<circle cx="454.39" cy="628.79" r="3.3" fill="#b8202e"/>
<circle cx="472.92" cy="621.57" r="3.3" fill="#b8202e"/>
<circle cx="491.45" cy="621.98" r="3.3" fill="#b8202e"/>
<circle cx="509.98" cy="626.61" r="3.3" fill="#b8202e"/>
<circle cx="528.51" cy="630.56" r="3.3" fill="#b8202e"/>
<circle cx="547.04" cy="635.18" r="3.3" fill="#b8202e"/>
<circle cx="565.57" cy="635.18" r="3.3" fill="#b8202e"/>
<circle cx="584.10" cy="637.63" r="3.3" fill="#b8202e"/>
<circle cx="602.63" cy="643.62" r="3.3" fill="#b8202e"/>
<line x1="621.60" y1="634.60" x2="637.00" y2="634.60" stroke="#b8202e" stroke-width="1.5"/>
<circle cx="629.30" cy="634.60" r="3.4" fill="#b8202e"/>
<text x="644.90" y="638.60" font-size="11.1" text-anchor="start" fill="#111">DMSO</text>
<line x1="621.60" y1="652.50" x2="637.00" y2="652.50" stroke="#0d3f85" stroke-width="1.5"/>
<circle cx="629.30" cy="652.50" r="3.4" fill="#0d3f85"/>
<text x="644.90" y="656.50" font-size="11.1" text-anchor="start" fill="#111">DNAPKi</text>
<line x1="621.60" y1="671.40" x2="637.00" y2="671.40" stroke="#5b9bd5" stroke-width="1.5"/>
<circle cx="629.30" cy="671.40" r="3.4" fill="#5b9bd5"/>
<text x="644.90" y="675.40" font-size="11.1" text-anchor="start" fill="#111">ATMi</text>
<line x1="621.60" y1="689.30" x2="637.00" y2="689.30" stroke="#1a9148" stroke-width="1.5"/>
<circle cx="629.30" cy="689.30" r="3.4" fill="#1a9148"/>
<text x="644.90" y="693.30" font-size="11.1" text-anchor="start" fill="#111">ATRi</text>
</svg>
</body></html>
